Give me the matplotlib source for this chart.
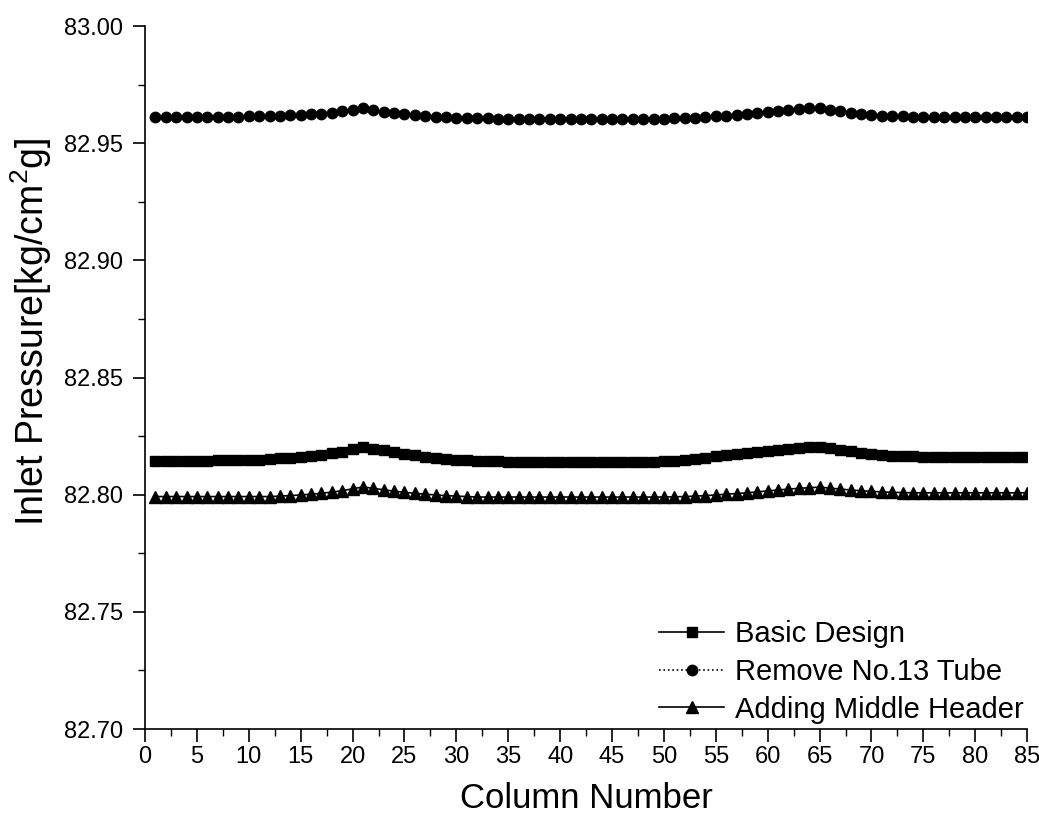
import matplotlib
matplotlib.use("Agg")
import matplotlib.pyplot as plt
from matplotlib.ticker import MultipleLocator
import numpy as np

plt.rcParams["font.family"] = ["Liberation Sans", "DejaVu Sans"]
plt.rcParams["mathtext.fontset"] = "custom"
plt.rcParams["mathtext.rm"] = "Liberation Sans"

# column numbers 1..85
columns = list(range(1, 86))

basic_design = [
    82.8145, 82.8145, 82.8145, 82.8145, 82.8145, 82.8145, 82.8146, 82.8146, 82.8147, 82.8148,
    82.8150, 82.8152, 82.8155, 82.8158, 82.8162, 82.8166, 82.8171, 82.8177, 82.8184, 82.8194,
    82.8204, 82.8197, 82.8189, 82.8181, 82.8174, 82.8168, 82.8162, 82.8157, 82.8153, 82.8150,
    82.8147, 82.8145, 82.8143, 82.8142, 82.8141, 82.8141, 82.8141, 82.8141, 82.8141, 82.8141,
    82.8141, 82.8141, 82.8141, 82.8141, 82.8141, 82.8141, 82.8141, 82.8141, 82.8141, 82.8142,
    82.8145, 82.8149, 82.8153, 82.8158, 82.8163, 82.8168, 82.8173, 82.8178, 82.8183, 82.8188,
    82.8192, 82.8196, 82.8200, 82.8203, 82.8205, 82.8199, 82.8192, 82.8185, 82.8179, 82.8174,
    82.8170, 82.8167, 82.8165, 82.8163, 82.8162, 82.8162, 82.8162, 82.8162, 82.8162, 82.8162,
    82.8162, 82.8162, 82.8162, 82.8162, 82.8162,
]

remove_no13 = [
    82.9611, 82.9611, 82.9611, 82.9611, 82.9612, 82.9612, 82.9612, 82.9613, 82.9613, 82.9614,
    82.9615, 82.9616, 82.9617, 82.9619, 82.9621, 82.9623, 82.9626, 82.9630, 82.9636, 82.9643,
    82.9649, 82.9641, 82.9634, 82.9628, 82.9623, 82.9619, 82.9616, 82.9613, 82.9611, 82.9609,
    82.9608, 82.9607, 82.9606, 82.9605, 82.9605, 82.9605, 82.9605, 82.9605, 82.9605, 82.9605,
    82.9605, 82.9605, 82.9605, 82.9605, 82.9605, 82.9605, 82.9605, 82.9605, 82.9605, 82.9605,
    82.9606, 82.9607, 82.9609, 82.9611, 82.9614, 82.9617, 82.9620, 82.9624, 82.9628, 82.9632,
    82.9637, 82.9641, 82.9645, 82.9648, 82.9650, 82.9643, 82.9636, 82.9630, 82.9625, 82.9621,
    82.9618, 82.9616, 82.9614, 82.9613, 82.9612, 82.9611, 82.9611, 82.9610, 82.9610, 82.9610,
    82.9610, 82.9610, 82.9610, 82.9610, 82.9610,
]

adding_middle = [
    82.7992, 82.7992, 82.7992, 82.7992, 82.7992, 82.7992, 82.7992, 82.7992, 82.7992, 82.7992,
    82.7992, 82.7992, 82.7994, 82.7996, 82.7999, 82.8002, 82.8006, 82.8011, 82.8017, 82.8025,
    82.8033, 82.8027, 82.8021, 82.8015, 82.8010, 82.8006, 82.8002, 82.7999, 82.7996, 82.7994,
    82.7992, 82.7990, 82.7990, 82.7990, 82.7990, 82.7990, 82.7990, 82.7990, 82.7990, 82.7990,
    82.7990, 82.7990, 82.7990, 82.7990, 82.7990, 82.7990, 82.7990, 82.7990, 82.7990, 82.7990,
    82.7991, 82.7992, 82.7994, 82.7996, 82.7999, 82.8002, 82.8005, 82.8008, 82.8012, 82.8016,
    82.8020, 82.8024, 82.8027, 82.8030, 82.8032, 82.8028, 82.8024, 82.8020, 82.8017, 82.8014,
    82.8012, 82.8010, 82.8009, 82.8008, 82.8008, 82.8008, 82.8008, 82.8008, 82.8008, 82.8008,
    82.8008, 82.8008, 82.8008, 82.8008, 82.8008,
]

series_labels = ["Basic Design", "Remove No.13 Tube", "Adding Middle Header"]

fig = plt.figure(figsize=(10.39, 8.31), dpi=100)
ax = fig.add_axes([0.1396, 0.1227, 0.849, 0.846])

ax.plot(columns, basic_design, color="black", linestyle="-", linewidth=1.2,
        marker="s", markersize=7, label=series_labels[0])
ax.plot(columns, remove_no13, color="black", linestyle=":", linewidth=1.2,
        marker="o", markersize=7.5, label=series_labels[1])
ax.plot(columns, adding_middle, color="black", linestyle="-", linewidth=1.2,
        marker="^", markersize=8, label=series_labels[2])

ax.set_xlim(0, 85)
ax.set_ylim(82.70, 83.00)
ax.xaxis.set_major_locator(MultipleLocator(5))
ax.xaxis.set_minor_locator(MultipleLocator(2.5))
ax.yaxis.set_major_locator(MultipleLocator(0.05))
ax.yaxis.set_minor_locator(MultipleLocator(0.025))
ax.yaxis.set_major_formatter(matplotlib.ticker.FormatStrFormatter("%.2f"))

ax.spines["top"].set_visible(False)
ax.spines["right"].set_visible(False)
ax.spines["left"].set_linewidth(1.2)
ax.spines["bottom"].set_linewidth(1.2)
ax.tick_params(which="major", direction="out", length=9, width=1.2, labelsize=17)
ax.tick_params(axis="y", which="major", pad=7)
ax.tick_params(which="minor", direction="out", length=5, width=1.0)

ax.set_xlabel("Column Number", fontsize=25, labelpad=10)
ax.set_ylabel("Inlet Pressure[kg/cm$^2$g]", fontsize=27)
ax.yaxis.set_label_coords(-0.103, 0.565)

ax.legend(loc="lower right", bbox_to_anchor=(1.013, -0.013), frameon=False,
          fontsize=21, handlelength=2.2, labelspacing=0.33, borderaxespad=0.1,
          handletextpad=0.4)

fig.savefig("out.png", dpi=100)
